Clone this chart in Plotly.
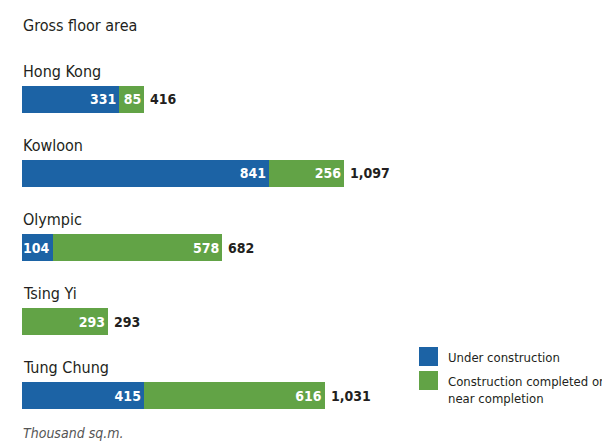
import plotly.graph_objects as go

categories = ["Hong Kong", "Kowloon", "Olympic", "Tsing Yi", "Tung Chung"]
under_construction = [331, 841, 104, 0, 415]
completed = [85, 256, 578, 293, 616]
totals = [416, 1097, 682, 293, 1031]
series_names = ["Under construction", "Construction completed or<br>near completion"]

BLUE = "#1c63a5"
GREEN = "#62a346"
DARK = "#231f20"
FONT = "Liberation Sans Narrow, DejaVu Sans Condensed, Roboto Condensed, Liberation Sans, sans-serif"

# page body has an 8px margin; figure is offset accordingly
OFF = 8
W, H = 610 - OFF, 444 - OFF
def px(x):
    return (x - OFF) / W
def py(y):
    return 1 - (y - OFF) / H

idx = list(range(len(categories)))

fig = go.Figure()
fig.add_trace(go.Bar(
    y=idx, x=under_construction, orientation="h", name=series_names[0],
    marker=dict(color=BLUE, line=dict(width=0)), width=0.365,
    text=[str(v) if v else "" for v in under_construction],
    textposition="inside", insidetextanchor="end",
    textfont=dict(color="white", size=14, family=FONT, weight="bold"),
    showlegend=False, cliponaxis=False,
))
fig.add_trace(go.Bar(
    y=idx, x=completed, orientation="h", name=series_names[1],
    marker=dict(color=GREEN, line=dict(width=0)), width=0.365,
    text=[str(v) if v else "" for v in completed],
    textposition="inside", insidetextanchor="end",
    textfont=dict(color="white", size=14, family=FONT, weight="bold"),
    showlegend=False, cliponaxis=False,
))

annotations = []
for i, (c, t) in enumerate(zip(categories, totals)):
    annotations.append(dict(x=0, y=i - 0.375, xref="x", yref="y", text=c,
                            showarrow=False, xanchor="left", yanchor="middle", xshift=-1,
                            font=dict(size=16, color=DARK, family=FONT)))
    annotations.append(dict(x=t, y=i, xref="x", yref="y", text=f"{t:,}",
                            showarrow=False, xanchor="left", yanchor="middle", xshift=4,
                            font=dict(size=14, color=DARK, family=FONT, weight="bold")))

annotations.append(dict(x=px(21), y=py(25), xref="paper", yref="paper", text="Gross floor area",
                        showarrow=False, xanchor="left", yanchor="middle",
                        font=dict(size=16, color=DARK, family=FONT)))
annotations.append(dict(x=px(21), y=py(433), xref="paper", yref="paper", text="<i>Thousand sq.m.</i>",
                        showarrow=False, xanchor="left", yanchor="middle",
                        font=dict(size=14, color="#555555", family=FONT)))

shapes = []
legend_colors = [BLUE, GREEN]
legend_tops = [347, 371]
for col, top, name in zip(legend_colors, legend_tops, series_names):
    shapes.append(dict(type="rect", xref="paper", yref="paper",
                       x0=px(419), x1=px(438), y0=py(top), y1=py(top + 19),
                       fillcolor=col, line=dict(width=0)))
    annotations.append(dict(x=px(446), y=py(top + 1), xref="paper", yref="paper", text=name,
                            showarrow=False, xanchor="left", yanchor="top", align="left",
                            font=dict(size=13, color=DARK, family=FONT)))

fig.update_layout(
    width=W, height=H, barmode="stack",
    margin=dict(l=0, r=0, t=0, b=0),
    paper_bgcolor="white", plot_bgcolor="white",
    xaxis=dict(domain=[px(22), 1], range=[0, 2002], visible=False, fixedrange=True),
    yaxis=dict(range=[4.655, -1.236], visible=False, fixedrange=True),
    uniformtext=dict(minsize=14, mode="show"),
    annotations=annotations, shapes=shapes,
    font=dict(family=FONT),
)

fig.write_html("out.html")
